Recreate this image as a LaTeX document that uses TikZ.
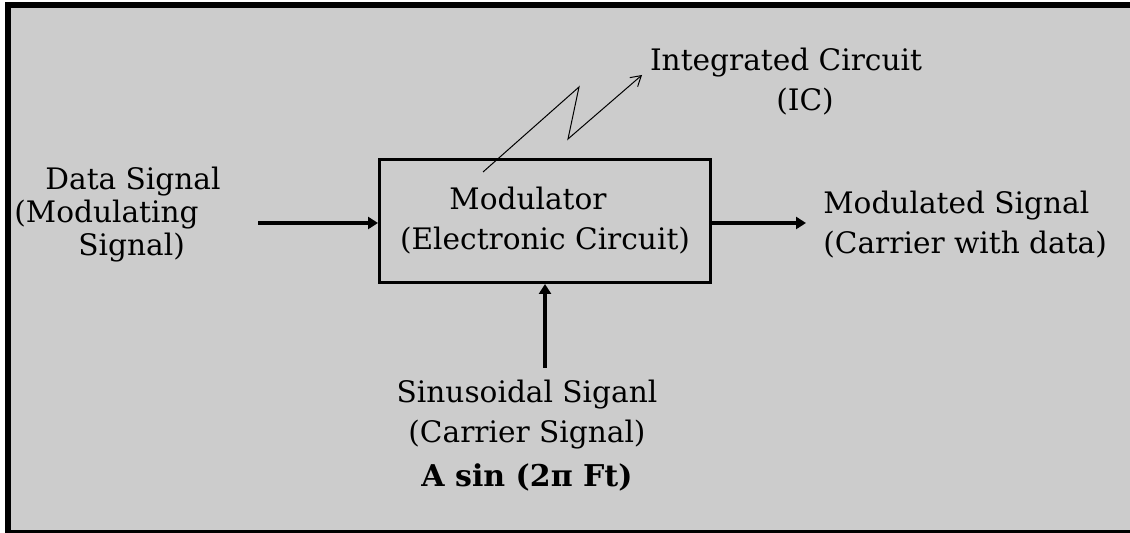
\documentclass[tikz,border=0pt]{standalone}
\usepackage{fontspec}
\setmainfont{DejaVu Serif}
\usetikzlibrary{arrows.meta}

\definecolor{panel}{HTML}{CCCCCC}
\newcommand{\lblfont}{\fontsize{14.8}{20}\selectfont}

\begin{document}
\begin{tikzpicture}[x=0.5pt,y=-0.5pt,
  block/.style={draw, line width=1.5pt, minimum width=165.5pt,
                minimum height=61.5pt, align=center, font=\lblfont,
                inner sep=0pt},
  lbl/.style={font=\lblfont, inner sep=0pt},
  sig/.style={-{Triangle[length=5pt,width=6pt]}, line width=2pt},
  zig/.style={-{Straight Barb[length=5pt,width=6pt]}, line width=0.5pt}
]
  % Frame
  \useasboundingbox (0,0) rectangle (1130,533);
  \fill[white] (0,0) rectangle (1130,533);
  \fill[panel] (8,5) rectangle (1130,533);
  \draw[line width=3pt] (8,533) -- (8,5) -- (1130,5);
  \draw[line width=1.5pt] (5,531.5) -- (1130,531.5);

  % Modulator block
  \node[block] at (545,221) (mod)
       {\hspace*{-17pt}Modulator\\(Electronic Circuit)};

  % Labels
  \node[lbl, align=left, anchor=west] at (14,215) (data)
       {\hspace*{15.5pt}Data Signal\\[-3.5pt](Modulating\\[-3.5pt]\hspace*{32pt}Signal)};
  \node[lbl, align=left, anchor=west] at (823,225) (out)
       {Modulated Signal\\(Carrier with data)};
  \node[lbl, align=center] at (786,82) (ic)
       {Integrated Circuit\\\hspace*{19pt}(IC)};
  \node[lbl, align=center, anchor=north] at (527,380) (car)
       {Sinusoidal Siganl\\(Carrier Signal)\\[2pt]
        {\fontsize{15}{20}\selectfont\bfseries A sin (2π Ft)}};

  % Free ends
  \coordinate (din)  at (258,223);
  \coordinate (dout) at (806,223);
  \coordinate (cin)  at (545,368);
  \coordinate (z0)   at (483,172);
  \coordinate (z1)   at (579,87);
  \coordinate (z2)   at (568,139);
  \coordinate (z3)   at (642,75);

  % Arrows
  \draw[sig] (din) -- (mod.west |- din);
  \draw[sig] (mod.east |- dout) -- (dout);
  \draw[sig] (cin) -- (mod.south);
  \draw[zig] (z0) -- (z1) -- (z2) -- (z3);

\end{tikzpicture}
\end{document}
